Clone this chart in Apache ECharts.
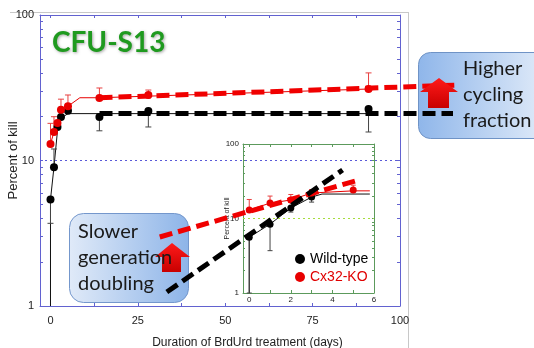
<!DOCTYPE html>
<html><head><meta charset="utf-8">
<script src="https://cdn.jsdelivr.net/npm/echarts@6/dist/echarts.min.js"></script>
<style>html,body{margin:0;padding:0;background:#fff}#c{width:534px;height:348px}</style>
</head><body><div id="c"></div>
<script>
// ---- Main chart data: [day, percent of kill] ----
const wtMain = [[0,5.4],[1,9],[2,17],[3,19.9],[5,22],[14,19.9],[28,21.9],[91,22.6]];
const koMain = [[0,13],[1,15.7],[2,18.1],[3,22.3],[5,23.6],[14,26.9],[28,28.2],[91,31]];
const wtMainErr = [[0,3.7,5.4],[1,9,12],[14,16,19.9],[28,17,21.9],[91,15.7,22.6]];
const koMainErr = [[0,13,18],[1,15.7,20],[3,22.3,26.4],[5,23.6,28.2],[14,26.9,31.5],[28,28.2,30.5],[91,31,40]];
const wtMainFit = [[0,1],[0,5.4],[1,9],[2,16],[3,19.5],[5,21],[91,21]];
const koMainFit = [[0,13],[1,15.7],[2,18.1],[3,22.3],[5,23.6],[8.4,27],[14,27],[91,31]];
const wtMainTrend = [[14,21],[115,21]];
const koMainTrend = [[14,27],[116,33]];
// ---- Inset data ----
const wtInset = [[0,5.6],[1,8.4],[2,13.8],[3,19.4]];
const koInset = [[0,13],[1,16.1],[2,17.7],[3,22],[5,24.2]];
const wtInsetErr = [[0,1,5.6],[1,3.7,8.4],[2,12.2,13.8],[3,16.6,19.4]];
const koInsetErr = [[0,13,18],[1,16.1,20],[2,17.7,21],[3,22,24.5],[5,24.2,28]];
const wtInsetFit = [[0,1],[0,5.6],[1,8.4],[2,13.8],[3,19.4],[3.5,21.3],[5.8,21.3]];
const koInsetFit = [[0,13],[1,16.1],[2,17.7],[3,22],[5,23.5],[5.8,23.5]];
const wtInsetTrend = [[-3.96,1.03],[4.49,44.8]];
const koInsetTrend = [[-4.3,5.65],[5.27,32.9]];
// ---- Tick values ----
const mainXLabels = [0,25,50,75,100];
const mainXTicks = [0,12.5,25,37.5,50,62.5,75,87.5,100];
const logLabels = [1,10,100];
const logTicks = [1,2,3,4,5,6,7,8,9,10,20,30,40,50,60,70,80,90,100];
const insetXLabels = [0,2,4,6];
const insetXTicks = [0,1,2,3,4,5,6];

const BLUE = '#6262d0', GREEN = '#5c9a5c';
const FONT = "'Liberation Sans Narrow','Liberation Sans',Arial,sans-serif";
const SANS = "'Liberation Sans',Arial,sans-serif";

function errItem(color, capW){
  return function(params, api){
    const x = api.value(0), lo = api.value(1), hi = api.value(2);
    const a = api.coord([x, lo]), b = api.coord([x, hi]);
    const st = {stroke: color, lineWidth: 1};
    return {type:'group', children:[
      {type:'line', shape:{x1:a[0],y1:a[1],x2:b[0],y2:b[1]}, style:st},
      {type:'line', shape:{x1:a[0]-capW,y1:a[1],x2:a[0]+capW,y2:a[1]}, style:st},
      {type:'line', shape:{x1:b[0]-capW,y1:b[1],x2:b[0]+capW,y2:b[1]}, style:st}
    ]};
  };
}
function xAx(grid, pos, min, max, color, ticks, labels, show, small){
  return {type:'value', gridIndex:grid, position:pos, min:min, max:max,
    axisLine:{show:true, onZero:false, lineStyle:{color:color, width:1}},
    axisTick:{show:true, inside:true, length:3, customValues:ticks, lineStyle:{color:color}},
    axisLabel:{show:show, customValues:labels, color:'#222', fontFamily:FONT, fontSize: small?8:11, margin: small?3:9},
    splitLine:{show:false}};
}
function yAx(grid, pos, color, show, small){
  return {type:'log', logBase:10, gridIndex:grid, position:pos, min:1, max:100,
    axisLine:{show:true, onZero:false, lineStyle:{color:color, width:1}},
    axisTick:{show:true, inside:true, length: small?2:3, customValues:logTicks, lineStyle:{color:color}},
    axisLabel:{show:show, customValues:logLabels, color:'#222', fontFamily:FONT, fontSize: small?8:11, margin: small?4:6},
    splitLine:{show:false}, minorTick:{show:false}};
}
function hiddenX(grid, min, max){ return {type:'value', gridIndex:grid, min:min, max:max, show:false, splitLine:{show:false}}; }
function hiddenY(grid){ return {type:'log', logBase:10, gridIndex:grid, min:1, max:100, show:false, splitLine:{show:false}}; }

const xAxes = [
  xAx(0,'bottom',-3,100,BLUE,mainXTicks,mainXLabels,true,false),
  xAx(0,'top',-3,100,BLUE,mainXTicks,mainXLabels,false,false),
  xAx(1,'bottom',-0.3,6,GREEN,insetXTicks,insetXLabels,true,true),
  xAx(1,'top',-0.3,6,GREEN,insetXTicks,insetXLabels,false,true),
  hiddenX(2,-3,125),
  hiddenX(3,-5,6)
];
Object.assign(xAxes[0], {name:'Duration of BrdUrd treatment (days)', nameLocation:'middle', nameGap:31, nameMoveOverlap:false,
  nameTextStyle:{fontFamily:SANS, fontSize:12, color:'#222', padding:[0,0,0,55]}});
const yAxes = [yAx(0,'left',BLUE,true,false), yAx(0,'right',BLUE,false,false), yAx(1,'left',GREEN,true,true), yAx(1,'right',GREEN,false,true), hiddenY(2), hiddenY(3)];
Object.assign(yAxes[0], {name:'Percent of kill', nameLocation:'middle', nameGap:20, nameMoveOverlap:false,
  nameTextStyle:{fontFamily:SANS, fontSize:13, color:'#222'}});
Object.assign(yAxes[2], {name:'Percent of kill', nameLocation:'middle', nameGap:12, nameMoveOverlap:false,
  nameTextStyle:{fontFamily:SANS, fontSize:7, color:'#222'}});

function fitLine(name, data, color, xi, yi, ml){
  const s = {type:'line', name:name, data:data, xAxisIndex:xi, yAxisIndex:yi, showSymbol:false, symbol:'none',
    lineStyle:{color:color, width:1}, itemStyle:{color:color}, z:2, silent:true, animation:false};
  if (ml) s.markLine = {silent:true, symbol:'none', label:{show:false}, animation:false,
    lineStyle:{color:ml, type:[2,3], width:1}, data:[{yAxis:10}]};
  return s;
}
function trend(name, data, color, xi, yi, z){
  return {type:'line', name:name, data:data, xAxisIndex:xi, yAxisIndex:yi, showSymbol:false, symbol:'none', clip:false,
    lineStyle:{color:color, width:5, type:[13,6], cap:'butt'}, itemStyle:{color:color}, z:z, silent:true, animation:false};
}
function pts(name, data, color, xi, yi, size){
  return {type:'scatter', name:name, data:data, xAxisIndex:xi, yAxisIndex:yi, symbol:'circle', symbolSize:size,
    itemStyle:{color:color, opacity:1}, z:4, animation:false};
}
function errs(name, data, color, xi, yi, cap){
  return {type:'custom', name:name, data:data, xAxisIndex:xi, yAxisIndex:yi, renderItem:errItem(color, cap),
    encode:{x:0, y:[1,2]}, z:3, silent:true, animation:false};
}
const RED = '#e80000';
const series = [
  fitLine('wt-fit', wtMainFit, '#111', 0, 0, '#5a5ad8'),
  fitLine('ko-fit', koMainFit, RED, 0, 0),
  errs('wt-err', wtMainErr, '#444', 0, 0, 3),
  errs('ko-err', koMainErr, '#e84040', 0, 0, 3),
  pts('Wild-type', wtMain, '#000', 0, 0, 8),
  pts('Cx32-KO', koMain, RED, 0, 0, 8),
  trend('ko-trend', koMainTrend, '#f00000', 4, 4, 5),
  trend('wt-trend', wtMainTrend, '#000', 4, 4, 5),
  fitLine('wt-fit-i', wtInsetFit, '#111', 2, 2, '#a6dc3c'),
  fitLine('ko-fit-i', koInsetFit, RED, 2, 2),
  errs('wt-err-i', wtInsetErr, '#444', 2, 2, 2.5),
  errs('ko-err-i', koInsetErr, '#e84040', 2, 2, 2.5),
  pts('Wild-type', wtInset, '#000', 2, 2, 7),
  pts('Cx32-KO', koInset, RED, 2, 2, 7),
  trend('ko-trend-i', koInsetTrend, '#f00000', 5, 5, 6),
  trend('wt-trend-i', wtInsetTrend, '#000', 5, 5, 7)
];

const boxFont = "Lato,'Open Sans',sans-serif";
const graphic = [
  {type:'line', shape:{x1:10,y1:12.5,x2:408.5,y2:12.5}, style:{stroke:'#c8c8c8', lineWidth:1}, z:0},
  {type:'line', shape:{x1:408.5,y1:12,x2:408.5,y2:348}, style:{stroke:'#c8c8c8', lineWidth:1}, z:0},
  {type:'rect', shape:{x:418.5,y:52.5,width:130,height:86,r:12}, z:1,
    style:{stroke:'#6f93c6', lineWidth:1, fill:{type:'linear',x:0,y:0,x2:1,y2:0,colorStops:[{offset:0,color:'#8fb6ea'},{offset:1,color:'#e2ecf9'}]}}},
  {type:'rect', shape:{x:69.5,y:213.5,width:119,height:89,r:14}, z:1,
    style:{stroke:'#7497cc', lineWidth:1, fill:{type:'linear',x:0,y:0,x2:1,y2:0,colorStops:[{offset:0,color:'#e0eaf8'},{offset:1,color:'#8db4e8'}]}}},
  {type:'polygon', z:100, shape:{points:[[439,78],[458,92],[449,92],[449,108],[428,108],[428,92],[420,92]]},
    style:{fill:{type:'linear',x:0,y:0,x2:0,y2:1,colorStops:[{offset:0,color:'#ff1a1a'},{offset:1,color:'#c80000'}]}}},
  {type:'polygon', z:100, shape:{points:[[172,243],[190,257],[181,257],[181,272],[162,272],[162,257],[155,257]]},
    style:{fill:{type:'linear',x:0,y:0,x2:0,y2:1,colorStops:[{offset:0,color:'#ff1a1a'},{offset:1,color:'#c80000'}]}}},
  {type:'text', z:101, x:463, y:56, style:{text:'Higher\ncycling\nfraction', fill:'#1a1a1a', font:'20px '+boxFont, lineHeight:26}},
  {type:'text', z:101, x:78, y:219, style:{text:'Slower\ngeneration\ndoubling', fill:'#1a1a1a', font:'20px '+boxFont, lineHeight:26}}
];

const chart = echarts.init(document.getElementById('c'), null, {renderer:'canvas'});
chart.setOption({
  animation:false,
  backgroundColor:'#fff',
  title:{text:'CFU-S13', left:52, top:29, padding:0,
    textStyle:{color:'#1f9a1f', fontWeight:'bold', fontSize:28, fontFamily:boxFont,
      textShadowColor:'rgba(0,0,0,0.35)', textShadowBlur:3, textShadowOffsetX:1, textShadowOffsetY:1}},
  legend:{orient:'vertical', left:290, top:247, itemWidth:10, itemHeight:10, itemGap:4, icon:'circle',
    textStyle:{fontFamily:SANS, fontSize:14, lineHeight:14},
    data:[{name:'Wild-type', textStyle:{color:'#000'}},{name:'Cx32-KO', textStyle:{color:'#e00000'}}]},
  grid:[
    {left:40, top:15, right:134, bottom:42, containLabel:false, outerBoundsMode:'none'},
    {left:243, top:144, right:160, bottom:55, containLabel:false, outerBoundsMode:'none'},
    {left:40, top:15, right:46, bottom:42, containLabel:false, outerBoundsMode:'none', show:false},
    {left:145.2, top:144, right:160, bottom:55, containLabel:false, outerBoundsMode:'none', show:false}
  ],
  xAxis:xAxes, yAxis:yAxes, series:series, graphic:graphic
});
</script></body></html>
